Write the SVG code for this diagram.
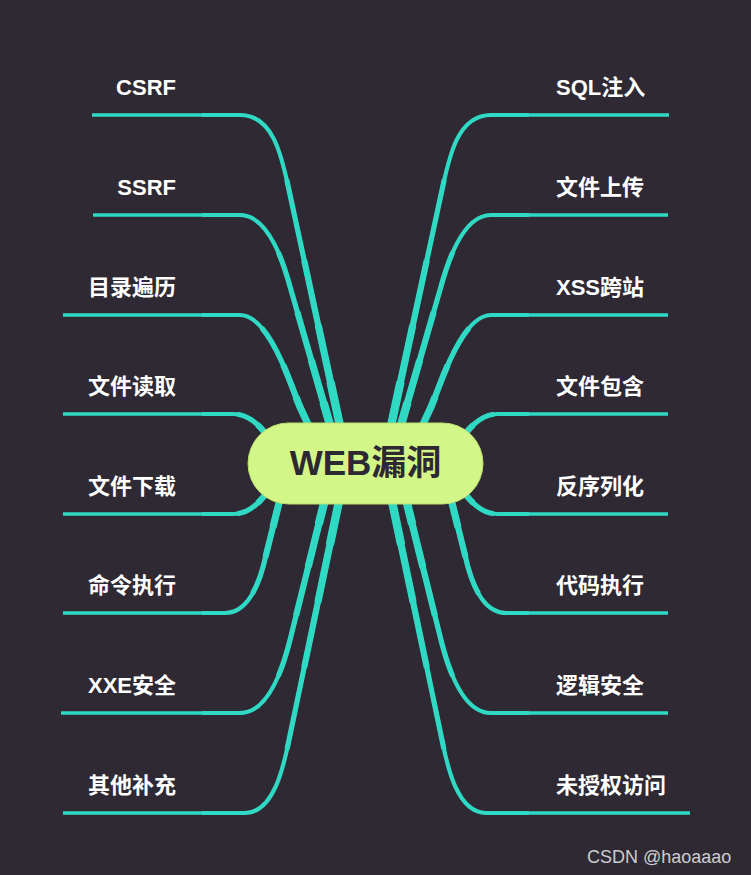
<svg xmlns="http://www.w3.org/2000/svg" xmlns:xlink="http://www.w3.org/1999/xlink" width="751" height="875" viewBox="0 0 751 875">
<defs>
<style>
.bg{fill:#2e2933}
.br{fill:none;stroke:#2fd9c4;stroke-linejoin:round;stroke-linecap:butt}
.w1{stroke-width:4.2}
.w2{stroke-width:5.2;stroke-dasharray:70 200}
.w3{stroke-width:6.2;stroke-dasharray:50 200}
.w4{stroke-width:7.2;stroke-dasharray:34 200}
.w5{stroke-width:8.4;stroke-dasharray:20 200}
.ul{fill:none;stroke:#2fd9c4;stroke-width:3.6}
.lbl{font-family:"Liberation Sans","Noto Sans CJK SC",sans-serif;font-weight:bold;font-size:22px;fill:#ffffff}
.le{text-anchor:end}
.ri{text-anchor:start}
.core{fill:#d3f688;stroke:#bddf72;stroke-width:1}
.coretxt{font-family:"Liberation Sans","Noto Sans CJK SC",sans-serif;font-weight:bold;font-size:35px;fill:#2d2831;text-anchor:middle}
.wm{font-family:"Liberation Sans","DejaVu Sans",sans-serif;font-size:18px;fill:#cdcdcd}
</style>
<path id="p1" pathLength="100" d="M 348 463 L 289 190 C 282 158 274 115 240 115 L 202 115"/>
<path id="p2" pathLength="100" d="M 341 463 L 291 290 C 285 268 270 215 240 215 L 202 215"/>
<path id="p3" pathLength="100" d="M 326 463 L 300 407 C 292 389 270 315 240 315 L 202 315"/>
<path id="p4" pathLength="100" d="M 295 470 C 268 440 258 414 233 414 L 202 414"/>
<path id="p5" pathLength="100" d="M 295 458 C 268 488 258 514 233 514 L 202 514"/>
<path id="p6" pathLength="100" d="M 289 463 L 266 555 C 261 578 250 613 225 613 L 202 613"/>
<path id="p7" pathLength="100" d="M 334 463 L 290 640 C 284.5 662 270 713 240 713 L 202 713"/>
<path id="p8" pathLength="100" d="M 347 463 L 289 740 C 284.4 762 275 813 245 813 L 202 813"/>
</defs>
<rect class="bg" x="0" y="0" width="751" height="875"/>
<g id="connectors">
<g id="left-connectors" class="br">
<g class="w1"><use href="#p1"/><use href="#p2"/><use href="#p3"/><use href="#p4"/><use href="#p5"/><use href="#p6"/><use href="#p7"/><use href="#p8"/></g>
<g class="w2"><use href="#p1"/><use href="#p2"/><use href="#p3"/><use href="#p4"/><use href="#p5"/><use href="#p6"/><use href="#p7"/><use href="#p8"/></g>
<g class="w3"><use href="#p1"/><use href="#p2"/><use href="#p3"/><use href="#p4"/><use href="#p5"/><use href="#p6"/><use href="#p7"/><use href="#p8"/></g>
<g class="w4"><use href="#p1"/><use href="#p2"/><use href="#p3"/><use href="#p4"/><use href="#p5"/><use href="#p6"/><use href="#p7"/><use href="#p8"/></g>
<g class="w5"><use href="#p1"/><use href="#p2"/><use href="#p3"/><use href="#p4"/><use href="#p5"/><use href="#p6"/><use href="#p7"/><use href="#p8"/></g>
</g>
<g id="right-connectors" class="br" transform="matrix(-1 0 0 1 731 0)">
<g class="w1"><use href="#p1"/><use href="#p2"/><use href="#p3"/><use href="#p4"/><use href="#p5"/><use href="#p6"/><use href="#p7"/><use href="#p8"/></g>
<g class="w2"><use href="#p1"/><use href="#p2"/><use href="#p3"/><use href="#p4"/><use href="#p5"/><use href="#p6"/><use href="#p7"/><use href="#p8"/></g>
<g class="w3"><use href="#p1"/><use href="#p2"/><use href="#p3"/><use href="#p4"/><use href="#p5"/><use href="#p6"/><use href="#p7"/><use href="#p8"/></g>
<g class="w4"><use href="#p1"/><use href="#p2"/><use href="#p3"/><use href="#p4"/><use href="#p5"/><use href="#p6"/><use href="#p7"/><use href="#p8"/></g>
<g class="w5"><use href="#p1"/><use href="#p2"/><use href="#p3"/><use href="#p4"/><use href="#p5"/><use href="#p6"/><use href="#p7"/><use href="#p8"/></g>
</g>
</g>
<g id="center">
<rect class="core" x="248" y="423" width="235" height="81" rx="40.5"/>
<text class="coretxt" x="365.5" y="475">WEB漏洞</text>
</g>
<g id="n-csrf"><path class="ul" d="M 92 115 H 202"/><text class="lbl le" x="176" y="95">CSRF</text></g>
<g id="n-ssrf"><path class="ul" d="M 93 215 H 202"/><text class="lbl le" x="176" y="195">SSRF</text></g>
<g id="n-dir"><path class="ul" d="M 63 315 H 202"/><text class="lbl le" x="176" y="295">目录遍历</text></g>
<g id="n-fileread"><path class="ul" d="M 63 414 H 202"/><text class="lbl le" x="176" y="394">文件读取</text></g>
<g id="n-filedown"><path class="ul" d="M 63 514 H 202"/><text class="lbl le" x="176" y="494">文件下载</text></g>
<g id="n-cmd"><path class="ul" d="M 63 613 H 202"/><text class="lbl le" x="176" y="593">命令执行</text></g>
<g id="n-xxe"><path class="ul" d="M 61 713 H 202"/><text class="lbl le" x="176" y="693">XXE安全</text></g>
<g id="n-other"><path class="ul" d="M 63 813 H 202"/><text class="lbl le" x="176" y="793">其他补充</text></g>
<g id="n-sql"><path class="ul" d="M 529 115 H 669"/><text class="lbl ri" x="556" y="95">SQL注入</text></g>
<g id="n-upload"><path class="ul" d="M 529 215 H 668"/><text class="lbl ri" x="556" y="195">文件上传</text></g>
<g id="n-xss"><path class="ul" d="M 529 315 H 668"/><text class="lbl ri" x="556" y="295">XSS跨站</text></g>
<g id="n-include"><path class="ul" d="M 529 414 H 668"/><text class="lbl ri" x="556" y="394">文件包含</text></g>
<g id="n-unser"><path class="ul" d="M 529 514 H 668"/><text class="lbl ri" x="556" y="494">反序列化</text></g>
<g id="n-code"><path class="ul" d="M 529 613 H 668"/><text class="lbl ri" x="556" y="593">代码执行</text></g>
<g id="n-logic"><path class="ul" d="M 529 713 H 668"/><text class="lbl ri" x="556" y="693">逻辑安全</text></g>
<g id="n-unauth"><path class="ul" d="M 529 813 H 690"/><text class="lbl ri" x="556" y="793">未授权访问</text></g>
<text class="wm" x="587" y="863">CSDN @haoaaao</text>
</svg>
